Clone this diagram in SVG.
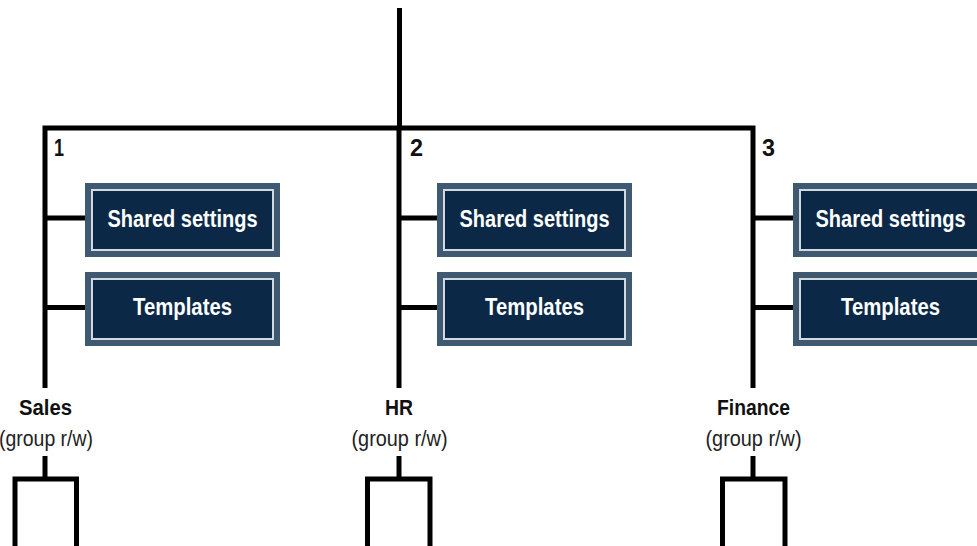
<svg xmlns="http://www.w3.org/2000/svg" width="977" height="546" viewBox="0 0 977 546">
<style>
.ln{fill:none;stroke:#000;stroke-width:5;stroke-linejoin:miter;stroke-linecap:butt}
.bo{fill:#3f5a70}
.bl{fill:none;stroke:#d2d9e0;stroke-width:2}
.bi{fill:#0b2947}
.bt{font-family:"Liberation Sans",Arial,sans-serif;font-weight:bold;font-size:24px;fill:#fff;text-anchor:middle}
.nm{font-family:"Liberation Sans",Arial,sans-serif;font-weight:bold;font-size:22px;fill:#111;text-anchor:middle}
.sub{font-family:"Liberation Sans",Arial,sans-serif;font-size:22px;fill:#222;text-anchor:middle}
.num{font-family:"Liberation Sans",Arial,sans-serif;font-weight:bold;font-size:23px;fill:#111}
</style>
<defs>
<g id="box">
<rect class="bo" x="0" y="0" width="195" height="74"/>
<rect class="bl" x="7" y="7" width="181" height="60"/>
<rect class="bi" x="8" y="8" width="179" height="58"/>
</g>
</defs>
<rect width="977" height="546" fill="#fff"/>
<g id="connectors">
<path class="ln" d="M399.5,8 V128"/>
<path class="ln" d="M45,388 V128 H753 V388"/>
<path class="ln" d="M399,128 V388"/>
<path class="ln" d="M45,218 H86 M45,307.5 H86"/>
<path class="ln" d="M399,218 H438 M399,307.5 H438"/>
<path class="ln" d="M753,218 H794 M753,307.5 H794"/>
<path class="ln" d="M45,456 V479"/>
<path class="ln" d="M399,456 V479"/>
<path class="ln" d="M753,456 V479"/>
</g>
<g id="branch-numbers">
<text class="num" x="54" y="156" textLength="10" lengthAdjust="spacingAndGlyphs">1</text>
<text class="num" x="410" y="156" textLength="13" lengthAdjust="spacingAndGlyphs">2</text>
<text class="num" x="762" y="156" textLength="13" lengthAdjust="spacingAndGlyphs">3</text>
</g>
<g id="sales-shared"><use href="#box" x="85" y="183"/><text class="bt" x="182.5" y="227" textLength="150" lengthAdjust="spacingAndGlyphs">Shared settings</text></g>
<g id="sales-templates"><use href="#box" x="85" y="272"/><text class="bt" x="182.5" y="315" textLength="99" lengthAdjust="spacingAndGlyphs">Templates</text></g>
<g id="hr-shared"><use href="#box" x="437" y="183"/><text class="bt" x="534.5" y="227" textLength="150" lengthAdjust="spacingAndGlyphs">Shared settings</text></g>
<g id="hr-templates"><use href="#box" x="437" y="272"/><text class="bt" x="534.5" y="315" textLength="99" lengthAdjust="spacingAndGlyphs">Templates</text></g>
<g id="finance-shared"><use href="#box" x="793" y="183"/><text class="bt" x="890.5" y="227" textLength="150" lengthAdjust="spacingAndGlyphs">Shared settings</text></g>
<g id="finance-templates"><use href="#box" x="793" y="272"/><text class="bt" x="890.5" y="315" textLength="99" lengthAdjust="spacingAndGlyphs">Templates</text></g>
<g id="sales">
<text class="nm" x="45.5" y="415" textLength="53" lengthAdjust="spacingAndGlyphs">Sales</text>
<text class="sub" x="46" y="446" textLength="94" lengthAdjust="spacingAndGlyphs">(group r/w)</text>
<path class="ln" d="M15,546 V479 H76.5 V546"/>
</g>
<g id="hr">
<text class="nm" x="399" y="415" textLength="28" lengthAdjust="spacingAndGlyphs">HR</text>
<text class="sub" x="399.5" y="446" textLength="96" lengthAdjust="spacingAndGlyphs">(group r/w)</text>
<path class="ln" d="M367.5,546 V479 H430 V546"/>
</g>
<g id="finance">
<text class="nm" x="753.5" y="415" textLength="73" lengthAdjust="spacingAndGlyphs">Finance</text>
<text class="sub" x="753.5" y="446" textLength="96" lengthAdjust="spacingAndGlyphs">(group r/w)</text>
<path class="ln" d="M722.5,546 V479 H785 V546"/>
</g>
</svg>
